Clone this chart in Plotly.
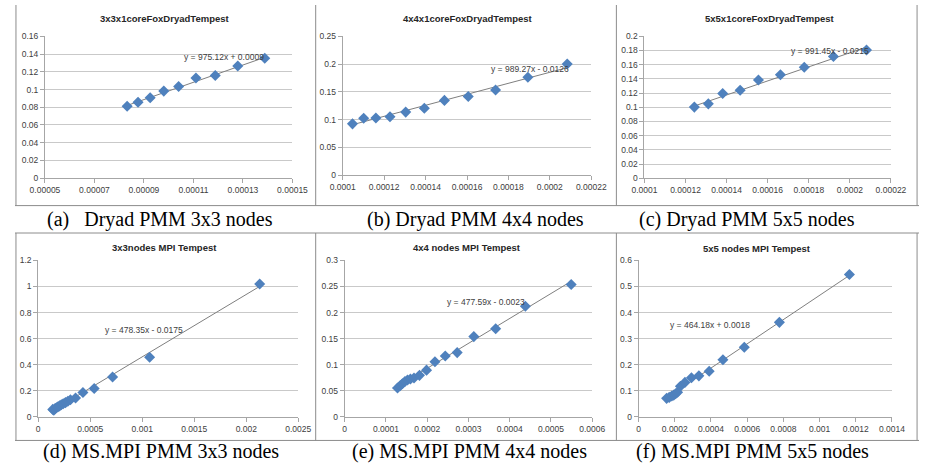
import plotly.graph_objects as go

W, H = 935, 466

# ---------------- data ----------------
a_x = [8.32e-5, 8.76e-5, 9.25e-5, 9.80e-5, 10.40e-5, 11.10e-5, 11.88e-5, 12.79e-5, 13.88e-5]
a_y = [0.0812, 0.0857, 0.0908, 0.0982, 0.1033, 0.1129, 0.1158, 0.1265, 0.1353]

b_x = [1.047e-4, 1.101e-4, 1.160e-4, 1.228e-4, 1.304e-4, 1.394e-4, 1.491e-4, 1.606e-4, 1.738e-4, 1.894e-4, 2.084e-4]
b_y = [0.0925, 0.1025, 0.1030, 0.1054, 0.1136, 0.1206, 0.1347, 0.1417, 0.1534, 0.1762, 0.2002]

c_x = [1.243e-4, 1.311e-4, 1.381e-4, 1.466e-4, 1.555e-4, 1.662e-4, 1.778e-4, 1.920e-4, 2.081e-4]
c_y = [0.1002, 0.1048, 0.1195, 0.1241, 0.1384, 0.1457, 0.1563, 0.1715, 0.1807]

d_x = [1.40e-4, 1.50e-4, 1.62e-4, 1.75e-4, 1.90e-4, 2.05e-4, 2.22e-4, 2.40e-4, 2.62e-4,
       2.85e-4, 3.10e-4, 3.59e-4, 4.30e-4, 5.38e-4, 7.15e-4, 1.071e-3, 2.129e-3]
d_y = [0.058, 0.052, 0.064, 0.070, 0.078, 0.085, 0.094, 0.101, 0.110,
       0.120, 0.132, 0.146, 0.188, 0.218, 0.306, 0.457, 1.019]

e_x = [1.28e-4, 1.344e-4, 1.398e-4, 1.46e-4, 1.523e-4, 1.594e-4, 1.68e-4, 1.813e-4, 1.984e-4,
       2.188e-4, 2.438e-4, 2.727e-4, 3.13e-4, 3.66e-4, 4.38e-4, 5.49e-4]
e_y = [0.0554, 0.0598, 0.0635, 0.0679, 0.0710, 0.0729, 0.0747, 0.0797, 0.0897,
       0.1059, 0.1170, 0.1233, 0.154, 0.169, 0.212, 0.254]

f_x = [1.548e-4, 1.69e-4, 1.833e-4, 1.94e-4, 2.046e-4, 2.153e-4, 2.31e-4, 2.56e-4, 2.92e-4,
       3.33e-4, 3.90e-4, 4.66e-4, 5.84e-4, 7.78e-4, 1.165e-3]
f_y = [0.0713, 0.075, 0.080, 0.0838, 0.0888, 0.095, 0.118, 0.1325, 0.150,
       0.1575, 0.175, 0.219, 0.2675, 0.3625, 0.546]

titles = ["3x3x1coreFoxDryadTempest", "4x4x1coreFoxDryadTempest", "5x5x1coreFoxDryadTempest",
          "3x3nodes MPI Tempest", "4x4 nodes MPI Tempest", "5x5 nodes MPI Tempest"]
captions = ["(a)&nbsp;&nbsp; Dryad PMM 3x3 nodes", "(b) Dryad PMM 4x4 nodes", "(c) Dryad PMM 5x5 nodes",
            "(d) MS.MPI PMM 3x3 nodes", "(e) MS.MPI PMM 4x4 nodes", "(f) MS.MPI PMM 5x5 nodes"]
slopes = [975.12, 989.27, 991.45, 478.35, 477.59, 464.18]
intercepts = [0.0009, -0.0126, -0.0215, -0.0175, -0.0023, 0.0018]
equations = ["y = 975.12x + 0.0009", "y = 989.27x - 0.0126", "y = 991.45x - 0.0215",
             "y = 478.35x - 0.0175", "y = 477.59x - 0.0023", "y = 464.18x + 0.0018"]
eq_pos = [(1.224e-4, 0.1365), (1.905e-4, 0.1914), (1.902e-4, 0.1800),
          (1.015e-3, 0.667), (3.43e-4, 0.221), (3.95e-4, 0.354)]

a_xticks = ["0.00005", "0.00007", "0.00009", "0.00011", "0.00013", "0.00015"]
b_xticks = ["0.0001", "0.00012", "0.00014", "0.00016", "0.00018", "0.0002", "0.00022"]
c_xticks = ["0.0001", "0.00012", "0.00014", "0.00016", "0.00018", "0.0002", "0.00022"]
d_xticks = ["0", "0.0005", "0.001", "0.0015", "0.002", "0.0025"]
e_xticks = ["0", "0.0001", "0.0002", "0.0003", "0.0004", "0.0005", "0.0006"]
f_xticks = ["0", "0.0002", "0.0004", "0.0006", "0.0008", "0.001", "0.0012", "0.0014"]

a_yticks = ["0", "0.02", "0.04", "0.06", "0.08", "0.1", "0.12", "0.14", "0.16"]
b_yticks = ["0", "0.05", "0.1", "0.15", "0.2", "0.25"]
c_yticks = ["0", "0.02", "0.04", "0.06", "0.08", "0.1", "0.12", "0.14", "0.16", "0.18", "0.2"]
d_yticks = ["0", "0.2", "0.4", "0.6", "0.8", "1", "1.2"]
e_yticks = ["0", "0.05", "0.1", "0.15", "0.2", "0.25", "0.3"]
f_yticks = ["0", "0.1", "0.2", "0.3", "0.4", "0.5", "0.6"]

xs = [a_x, b_x, c_x, d_x, e_x, f_x]
ys = [a_y, b_y, c_y, d_y, e_y, f_y]
xticks = [a_xticks, b_xticks, c_xticks, d_xticks, e_xticks, f_xticks]
yticks = [a_yticks, b_yticks, c_yticks, d_yticks, e_yticks, f_yticks]

# ---------------- layout (pixels) ----------------
plot_boxes = [(31, 287, 32, 177), (339, 596, 32, 174), (651, 906, 32, 177),
              (24, 293, 261, 421), (341, 597, 261, 421), (645, 907, 261, 421)]
title_pos = [(155, 14), (468, 14), (780, 14), (155, 248), (468, 248), (767, 249)]
caption_pos = [(150, 219), (476, 219), (757, 219), (151, 456), (470, 456), (763, 456)]

def px(x):
    return x / W

def py(y):
    return 1 - y / H

fig = go.Figure()
layout = dict(width=W, height=H, margin=dict(l=0, r=0, t=0, b=0),
              paper_bgcolor="white", plot_bgcolor="white", showlegend=False)

annotations = []
shapes = []
MARK = "#4F81BD"
GRID = "#C9C9C9"
AXC = "#A6A6A6"
TICKF = dict(family="Liberation Sans, Arial", size=8.5, color="#404040")

for i in range(6):
    k = "" if i == 0 else str(i + 1)
    xa, ya = "x" + k, "y" + k
    x0, x1, y0, y1 = plot_boxes[i]
    xv = [float(t) for t in xticks[i]]
    yv = [float(t) for t in yticks[i]]
    layout["xaxis" + k] = dict(domain=[px(x0), px(x1)], anchor=ya, range=[xv[0], xv[-1]],
                               tickvals=xv, ticktext=xticks[i], showgrid=False, zeroline=False,
                               showline=True, linecolor=AXC, linewidth=1, ticks="outside",
                               ticklen=4, tickcolor=AXC, tickfont=TICKF)
    layout["yaxis" + k] = dict(domain=[py(y1), py(y0)], anchor=xa, range=[yv[0], yv[-1]],
                               tickvals=yv, ticktext=yticks[i], showgrid=True, gridcolor=GRID,
                               gridwidth=1, zeroline=False, showline=True, linecolor=AXC,
                               linewidth=1, ticks="outside", ticklen=4, tickcolor=AXC,
                               tickfont=TICKF)
    # trendline from coefficients
    tx = [min(xs[i]), max(xs[i])]
    ty = [slopes[i] * t + intercepts[i] for t in tx]
    fig.add_trace(go.Scatter(x=tx, y=ty, mode="lines", xaxis=xa, yaxis=ya,
                             line=dict(color="#7F7F7F", width=1), hoverinfo="skip"))
    fig.add_trace(go.Scatter(x=xs[i], y=ys[i], mode="markers", xaxis=xa, yaxis=ya,
                             marker=dict(symbol="diamond", size=8.5, color=MARK)))
    annotations.append(dict(x=eq_pos[i][0], y=eq_pos[i][1], xref=xa, yref=ya, text=equations[i],
                            showarrow=False, xanchor="center", yanchor="middle",
                            font=dict(family="Liberation Sans, Arial", size=8.5, color="#404040")))
    annotations.append(dict(x=px(title_pos[i][0]), y=py(title_pos[i][1]), xref="paper", yref="paper",
                            text="<b>" + titles[i] + "</b>", showarrow=False,
                            xanchor="center", yanchor="middle",
                            font=dict(family="Liberation Sans, Arial", size=9.5, color="#262626")))
    annotations.append(dict(x=px(caption_pos[i][0]), y=py(caption_pos[i][1]), xref="paper",
                            yref="paper", text=captions[i], showarrow=False,
                            xanchor="center", yanchor="middle",
                            font=dict(family="Liberation Serif, Times New Roman", size=20,
                                      color="black")))

# frame lines
BORDER = "#8C8C8C"
for yy in [205, 233, 445]:
    shapes.append(dict(type="line", xref="paper", yref="paper", x0=0, x1=1, y0=py(yy), y1=py(yy),
                       line=dict(color=BORDER, width=1)))
for xx in [1, 311, 622, 933]:
    for (ya0, ya1) in [(0, 205), (233, 445)]:
        shapes.append(dict(type="line", xref="paper", yref="paper", x0=px(xx), x1=px(xx),
                           y0=py(ya0), y1=py(ya1), line=dict(color=BORDER, width=1)))

layout["annotations"] = annotations
layout["shapes"] = shapes
fig.update_layout(**layout)
fig.write_html("out.html")
